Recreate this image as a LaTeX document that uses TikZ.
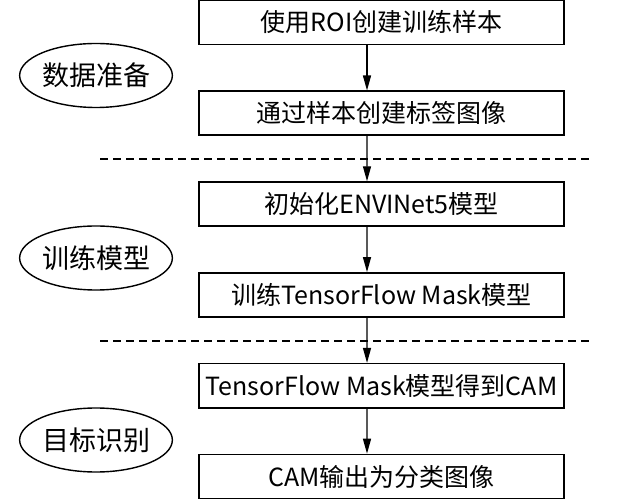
\documentclass[tikz,border=0pt]{standalone}
\usepackage{fontspec}
\setmainfont{Noto Sans CJK SC}
\usetikzlibrary{trees,shapes.geometric,arrows.meta}

\begin{document}
\begin{tikzpicture}[x=1pt,y=1pt,
  stepbox/.style={draw,line width=1.6pt,minimum width=365pt,minimum height=44pt,inner sep=0pt,font=\fontsize{25}{30}\selectfont},
  phase/.style={draw,ellipse,line width=1.4pt,minimum width=140pt,minimum height=64pt,inner sep=0pt,font=\fontsize{27}{32}\selectfont},
  divider/.style={line width=1.4pt,dash pattern=on 8pt off 5pt},
	level distance=90.8pt,every child node/.style={stepbox},
	edge from parent/.style={draw,line width=1.3pt,-{Triangle[length=15pt,width=8pt]}},
	edge from parent path={([xshift=-14.5pt]\tikzparentnode.south) -- ([xshift=-14.5pt]\tikzchildnode.north)}
]
\useasboundingbox (0,0) rectangle (617,500);
\node[stepbox] (roi) at (381.5,477.5) {使用ROI创建训练样本}
child {node (lbl) {通过样本创建标签图像}
	child {node (init) {初始化ENVINet5模型}
		child {node (train) {训练TensorFlow Mask模型}
			child {node (cam) {TensorFlow Mask模型得到CAM}
				child {node (out) {CAM输出为分类图像}}
			}
		}
	}
};
\node[phase] (prep) at (96,424.5) {数据准备};
\node[phase] (fit) at (96,242) {训练模型};
\node[phase] (rec) at (96,60) {目标识别};
\draw[divider] (100,341) -- (590,341);
\draw[divider] (100,159) -- (590,159);
\end{tikzpicture}
\end{document}
